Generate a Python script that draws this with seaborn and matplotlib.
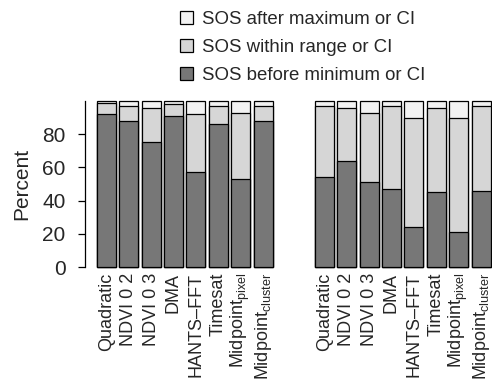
import matplotlib
matplotlib.use("Agg")
import matplotlib.pyplot as plt
from matplotlib.patches import Patch
import seaborn as sns

# Methods compared in both panels
methods = ["Quadratic", "NDVI 0 2", "NDVI 0 3", "DMA", "HANTS-FFT",
           "Timesat", "Midpoint_pixel", "Midpoint_cluster"]
tick_labels = ["Quadratic", "NDVI 0 2", "NDVI 0 3", "DMA", "HANTS\u2013FFT",
               "Timesat", "Midpoint$_{pixel}$", "Midpoint$_{cluster}$"]

# Percent of pixels in each SOS class (left panel)
before_left = [92, 88, 75, 91, 57, 86, 53, 88]
after_left = [1, 3, 4, 2, 8, 3, 7, 3]
# Percent of pixels in each SOS class (right panel)
before_right = [54, 64, 51, 47, 24, 45, 21, 46]
after_right = [3, 4, 7, 3, 10, 4, 10, 3]

legend_labels = ["SOS after maximum or CI", "SOS within range or CI",
                 "SOS before minimum or CI"]
c_after, c_within, c_before = "#f2f2f2", "#d6d6d6", "#777777"

sns.set_style("white")
plt.rcParams["font.family"] = ["Liberation Sans", "DejaVu Sans"]
plt.rcParams["mathtext.fontset"] = "custom"
plt.rcParams["mathtext.rm"] = "Liberation Sans"
plt.rcParams["mathtext.it"] = "Liberation Sans"
plt.rcParams["mathtext.default"] = "regular"

fig = plt.figure(figsize=(4.95, 3.83), dpi=100)
ax1 = fig.add_axes([0.1717, 0.2984, 0.3859, 0.4423])
ax2 = fig.add_axes([0.6323, 0.2984, 0.3624, 0.4423])


def stacked(ax, before, after):
    total = [100] * len(before)
    lower_two = [100 - a for a in after]
    kw = dict(edgecolor="black", linewidth=0.9, width=0.85,
              saturation=1, errorbar=None, ax=ax)
    sns.barplot(x=methods, y=total, color=c_after, **kw)
    sns.barplot(x=methods, y=lower_two, color=c_within, **kw)
    sns.barplot(x=methods, y=before, color=c_before, **kw)
    ax.set_ylim(-1, 101)
    ax.set_xticks(range(len(methods)))
    ax.set_xticklabels(tick_labels, rotation=90, fontsize=13)
    ax.tick_params(axis="x", length=0, pad=3)
    for s in ["top", "right", "bottom"]:
        ax.spines[s].set_visible(False)
    ax.set_xlabel("")


stacked(ax1, before_left, after_left)
ax1.set_xlim(-0.95, 7.58)
ax1.spines["left"].set_bounds(0, 100)
ax1.spines["left"].set_linewidth(0.9)
ax1.spines["left"].set_color("black")
ax1.set_yticks([0, 20, 40, 60, 80])
ax1.tick_params(axis="y", length=5, width=0.9, pad=9, labelsize=15,
                left=True, color="black")
ax1.set_ylabel("Percent", fontsize=15, labelpad=8)

stacked(ax2, before_right, after_right)
ax2.set_xlim(-0.5, 7.5)
ax2.spines["left"].set_visible(False)
ax2.set_yticks([])
ax2.set_ylabel("")

handles = [Patch(facecolor=c, edgecolor="black", linewidth=0.9)
           for c in (c_after, c_within, c_before)]
fig.legend(handles, legend_labels, loc="upper left",
           bbox_to_anchor=(180 / 495, 0.972), frameon=False,
           fontsize=13.4, handlelength=0.68, handleheight=0.68,
           handletextpad=0.5, labelspacing=0.6, borderpad=0,
           borderaxespad=0)

fig.savefig("out.png", dpi=100)
